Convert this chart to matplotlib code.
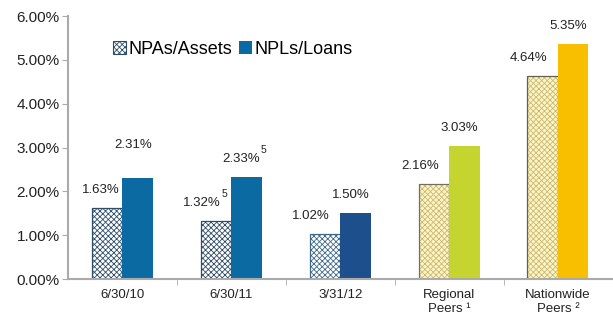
import matplotlib.pyplot as plt
import numpy as np

categories = ['6/30/10', '6/30/11', '3/31/12', 'Regional\nPeers \u00b9', 'Nationwide\nPeers \u00b2']
npa_assets = [1.63, 1.32, 1.02, 2.16, 4.64]
npl_loans = [2.31, 2.33, 1.50, 3.03, 5.35]
npa_notes = ['', '5', '', '', '']
npl_notes = ['', '5', '', '', '']

solid_colors = ['#0b6aa2', '#0b6aa2', '#1d4f8c', '#c6d430', '#f8be00']
hatch_face = ['white', 'white', 'white', '#fff5c2', '#fff5c2']
hatch_edge = ['#2e4d68', '#2e4d68', '#3f6a88', '#c9ba78', '#c9ba78']
outline = ['#2e4d68', '#2e4d68', '#3f6a88', '#707060', '#606050']

plt.rcParams['font.family'] = ['Liberation Sans', 'DejaVu Sans']
plt.rcParams['hatch.linewidth'] = 0.6
fig = plt.figure(figsize=(6.13, 3.2), dpi=100)
ax = fig.add_axes([0.111, 0.128, 0.888, 0.822])

x = np.arange(len(categories))
w = 0.28
for i in x:
    ax.bar(i - w / 2, npa_assets[i], w, color=hatch_face[i], edgecolor=hatch_edge[i],
           hatch='xxxxxx', linewidth=0)
    ax.bar(i - w / 2, npa_assets[i], w, fill=False, edgecolor=outline[i], linewidth=0.9)
    ax.bar(i + w / 2, npl_loans[i], w, color=solid_colors[i], linewidth=0)

# value labels above the bars
def label(xpos, val, note, dx=-5, dy=18):
    ax.annotate(f'{val:.2f}%', (xpos, val), xytext=(dx, dy), textcoords='offset pixels',
                ha='center', va='center', fontsize=9.5, color='#222222')
    if note:
        ax.annotate(note, (xpos, val), xytext=(dx + 22, dy + 9), textcoords='offset pixels',
                    ha='center', va='center', fontsize=7.5, color='#222222')

for i in x:
    label(i - w / 2, npa_assets[i], npa_notes[i], dx=-6 if i == 0 else -14)
    label(i + w / 2, npl_loans[i], npl_notes[i], dy=33 if i == 0 else 18)

ax.set_xlim(-0.5, len(categories) - 0.5)
ax.set_ylim(0, 6)
ax.set_yticks(np.arange(0, 7, 1))
ax.set_yticklabels([f'{v:.2f}%' for v in range(7)], fontsize=11, color='#222222')
ax.set_xticks(x)
ax.set_xticklabels(categories, fontsize=9.5, color='#222222', linespacing=1.15)
ax.tick_params(axis='x', length=0, pad=7.5)
ax.set_xticks(np.arange(0.5, len(categories) - 0.5, 1), minor=True)
ax.tick_params(axis='x', which='minor', length=4, color='#aaaaaa')
ax.tick_params(axis='y', length=4, color='#aaaaaa', pad=2)
for s in ['top', 'right']:
    ax.spines[s].set_visible(False)
for s in ['left', 'bottom']:
    ax.spines[s].set_color('#aaaaaa')
    ax.spines[s].set_linewidth(1.5)

h1 = plt.Rectangle((0, 0), 1, 1, facecolor='white', edgecolor='#2e4d68', hatch='xxxxxx', linewidth=0.8)
h2 = plt.Rectangle((0, 0), 1, 1, facecolor='#0b6aa2', linewidth=0)
fig.legend([h1, h2], ['NPAs/Assets', 'NPLs/Loans'], loc='center left', bbox_to_anchor=(0.158, 0.845),
           ncol=2, frameon=False, fontsize=13, handlelength=0.7, handleheight=0.7,
           handletextpad=0.15, columnspacing=0.4)

fig.savefig('out.png', dpi=100)
